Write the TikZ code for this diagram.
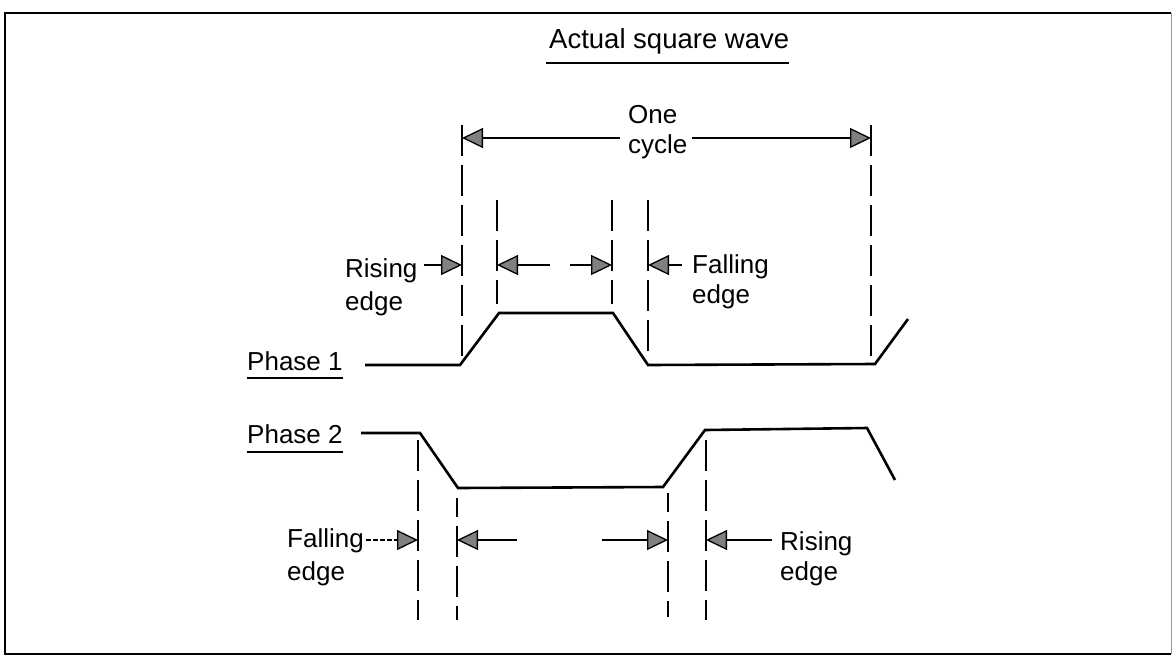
\documentclass[tikz,border=0pt]{standalone}
\usepackage{fontspec}
\setmainfont{Liberation Sans}
\usepackage{tikz}
\usetikzlibrary{positioning,arrows.meta}

\begin{document}
\begin{tikzpicture}[x=1pt, y=-1pt,
  lbl/.style={inner sep=0pt, font=\fontsize{26}{31}\selectfont},
  wave/.style={line width=2.6pt, line join=miter},
  guide/.style={line width=2.4pt, dash pattern=on 31pt off 9pt},
  uline/.style={line width=2.6pt},
  dimarrow/.style={line width=1.6pt, -{Triangle[length=21pt, width=20pt, fill=black!50, line width=1.3pt]}}]
\useasboundingbox (0,0) rectangle (1172,656);
\draw[line width=2.8pt] (1171,13) -- (5,13) -- (5,654) -- (1171,654);
\draw[black!40, line width=0.8pt] (1171,13) -- (1171,654);

\node[lbl, font=\fontsize{27.5}{32}\selectfont, anchor=base west] (title) at (549,48) {Actual square wave};
\draw[uline] ([xshift=-3pt, yshift=-15pt]title.base west) -- ([yshift=-15pt]title.base east);

\node[lbl, anchor=base west] (one) at (628,123) {One};
\node[lbl, anchor=base west] (cyc) at (628,153) {cycle};
\coordinate (c1) at (462,138);
\coordinate (c2) at (871,138);
\draw[dimarrow] ([xshift=-8pt]cyc.west |- c1) -- (c1);
\draw[dimarrow] ([xshift=4pt]cyc.east |- c2) -- (c2);

\draw[guide] (462,125) -- (462,362);
\draw[guide] (497,200) -- (497,304);
\draw[guide] (612,200) -- (612,304);
\draw[guide] (648,200) -- (648,358);
\draw[guide] (871,125) -- (871,358);

\node[lbl, anchor=base west] (rise1) at (345,277) {Rising};
\node[lbl, anchor=base west] (rise1b) at (345,310) {edge};
\coordinate (r1) at (462,265);
\draw[dimarrow] ([xshift=6pt]rise1.east |- r1) -- (r1);

\coordinate (i1) at (497,265);
\coordinate (i2) at (612,265);
\coordinate (ia) at (550,265);
\coordinate (ib) at (570,265);
\draw[dimarrow] (ia) -- (i1);
\draw[dimarrow] (ib) -- (i2);

\node[lbl, anchor=base west] (fall1) at (692,273) {Falling};
\node[lbl, anchor=base west] (fall1b) at (692,303) {edge};
\coordinate (f1) at (648,265);
\draw[dimarrow] ([xshift=-10pt]fall1.west |- f1) -- (f1);

\node[lbl, anchor=base west] (ph1) at (247,370) {Phase 1};
\draw[uline] ([yshift=-8pt]ph1.base west) -- ([yshift=-8pt]ph1.base east);
\draw[wave] (365,365) -- (460,365) -- (499,313) -- (613,313) -- (648,365) -- (875,364) -- (908,319);

\node[lbl, anchor=base west] (ph2) at (247,443) {Phase 2};
\draw[uline] ([yshift=-9pt]ph2.base west) -- ([yshift=-9pt]ph2.base east);
\draw[wave] (361,433) -- (420,433) -- (458,488) -- (663,487) -- (705,430) -- (867,428) -- (895,480);

\draw[guide] (418,440) -- (418,620);
\draw[guide, dash phase=12pt] (457,498) -- (457,620);
\draw[guide, dash phase=12pt] (668,493) -- (668,617);
\draw[guide] (706,440) -- (706,620);

\node[lbl, anchor=base west] (fall2) at (287,547) {Falling};
\node[lbl, anchor=base west] (fall2b) at (287,580) {edge};
\coordinate (f2) at (418,540);
\draw[dimarrow, dash pattern=on 5pt off 2pt] ([xshift=2pt]fall2.east |- f2) -- (f2);

\coordinate (j1) at (457,540);
\coordinate (j2) at (668,540);
\coordinate (ja) at (517,540);
\coordinate (jb) at (602,540);
\draw[dimarrow] (ja) -- (j1);
\draw[dimarrow] (jb) -- (j2);

\node[lbl, anchor=base west] (rise2) at (780,550) {Rising};
\node[lbl, anchor=base west] (rise2b) at (780,580) {edge};
\coordinate (r2) at (706,540);
\draw[dimarrow] ([xshift=-8pt]rise2.west |- r2) -- (r2);
\end{tikzpicture}
\end{document}
